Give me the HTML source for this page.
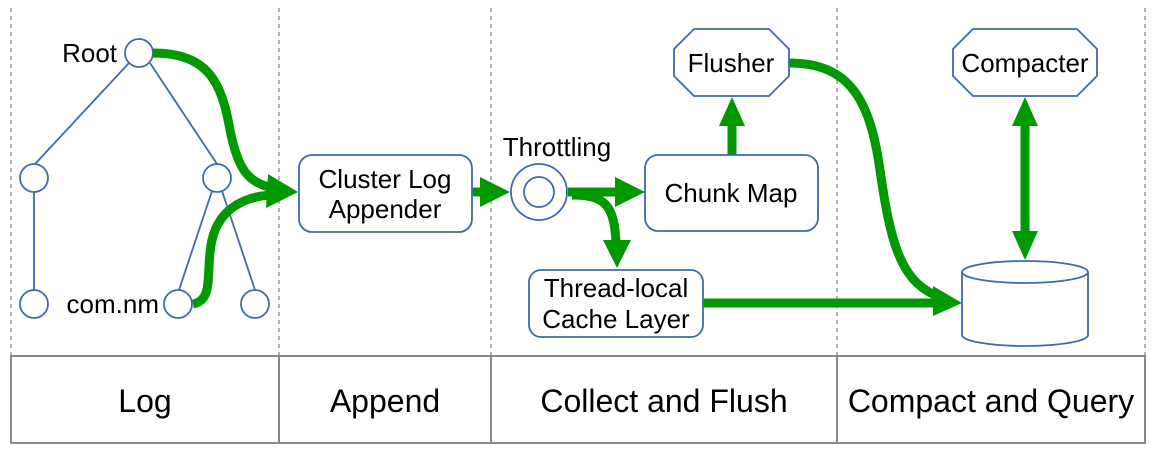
<!DOCTYPE html>
<html><head><meta charset="utf-8"><style>
html,body{margin:0;padding:0;background:#fff;}
svg{display:block;font-family:"Liberation Sans",sans-serif;}
</style></head><body>
<svg width="1155" height="462" viewBox="0 0 1155 462" xmlns="http://www.w3.org/2000/svg">
<g stroke="#888" stroke-width="1.3" stroke-dasharray="4,4">
<line x1="11" y1="8" x2="11" y2="356"/><line x1="279" y1="8" x2="279" y2="356"/>
<line x1="491" y1="8" x2="491" y2="356"/><line x1="837" y1="8" x2="837" y2="356"/>
<line x1="1145" y1="8" x2="1145" y2="356"/>
</g>
<g fill="none" stroke="#888" stroke-width="2">
<rect x="11" y="356" width="1134" height="87"/>
<line x1="279" y1="356" x2="279" y2="443"/><line x1="491" y1="356" x2="491" y2="443"/><line x1="837" y1="356" x2="837" y2="443"/>
</g>
<g font-size="32" text-anchor="middle" fill="#000">
<text x="145" y="412">Log</text><text x="385" y="412">Append</text>
<text x="664" y="412">Collect and Flush</text><text x="991" y="412">Compact and Query</text>
</g>
<!-- tree -->
<g stroke="#3e6aad" stroke-width="1.8" fill="#fff">
<line x1="129" y1="63" x2="35" y2="164"/><line x1="150" y1="63" x2="217" y2="164"/>
<line x1="34" y1="192" x2="34" y2="290"/>
<line x1="212" y1="191" x2="179" y2="290"/><line x1="222" y1="191" x2="255" y2="290"/>
<circle cx="139" cy="53" r="14"/><circle cx="34" cy="178" r="14"/><circle cx="217" cy="178" r="14"/>
<circle cx="34" cy="304" r="14"/><circle cx="178" cy="304" r="14"/><circle cx="255" cy="304" r="14"/>
</g>
<g font-size="26" fill="#000">
<text x="117" y="62" text-anchor="end">Root</text>
<text x="159" y="313" text-anchor="end">com.nm</text>
</g>
<!-- green connectors -->
<g fill="none" stroke="#009900" stroke-width="9">
<path d="M153 53 C210 53 222 85 230 130 C238 170 248 182 272 188"/>
<path d="M193 304 C215 300 205 270 212 240 C220 205 250 196 272 195"/>
<line x1="472" y1="192" x2="482" y2="192"/>
<line x1="568" y1="192" x2="618" y2="192"/>
<path d="M572 195 C605 195 614 205 616 242"/>
<line x1="732" y1="155" x2="732" y2="124"/>
<line x1="1025" y1="124" x2="1025" y2="234"/>
<path d="M789 63 C850 63 870 100 880 170 C890 240 900 280 935 295"/>
<line x1="703" y1="303" x2="935" y2="303"/>
</g>
<g fill="#009900">
<polygon points="298,192 268,174 266,208"/>
<polygon points="510,192 480,177 480,207"/>
<polygon points="645,192 615,177 615,207"/>
<polygon points="617,268 603,240 631,240"/>
<polygon points="732,97 719,126 745,126"/>
<polygon points="1025,97 1012,126 1038,126"/>
<polygon points="1025,260 1012,231 1038,231"/>
<polygon points="962,303 933,286 933,316"/>
</g>
<!-- boxes -->
<g fill="#fff" stroke="#3e6aad" stroke-width="1.8">
<rect x="299" y="155" width="173" height="77" rx="13"/>
<circle cx="539" cy="192" r="28"/><circle cx="539" cy="192" r="15"/>
<rect x="645" y="155" width="173" height="76" rx="13"/>
<rect x="529" y="270" width="174" height="67" rx="12"/>
<polygon points="694,29 769,29 789,49 789,76 769,96 694,96 674,76 674,49"/>
<polygon points="973,29 1077,29 1097,49 1097,76 1077,96 973,96 953,76 953,49"/>
<path d="M962 272 L962 335 A63 11 0 0 0 1088 335 L1088 272"/>
<ellipse cx="1025" cy="272" rx="63" ry="11"/>
</g>
<g font-size="26" fill="#000" text-anchor="middle">
<text x="385" y="188">Cluster Log</text><text x="385" y="218">Appender</text>
<text x="557" y="156">Throttling</text>
<text x="731" y="202">Chunk Map</text>
<text x="616" y="297">Thread-local</text><text x="616" y="328">Cache Layer</text>
<text x="731" y="72">Flusher</text>
<text x="1025" y="72">Compacter</text>
</g>
</svg>
</body></html>
